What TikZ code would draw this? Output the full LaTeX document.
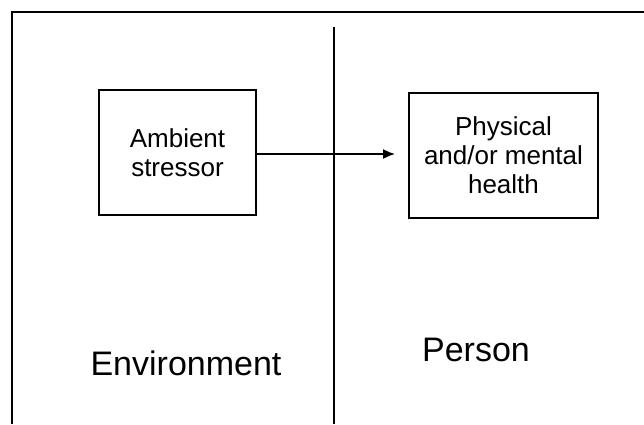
\documentclass[tikz,border=0pt]{standalone}
\usepackage{fontspec}
\setmainfont{Liberation Sans}
\usetikzlibrary{arrows.meta}
\begin{document}
\begin{tikzpicture}[x=0.5pt, y=-0.5pt, >={Latex[length=6pt,width=5pt]}, line width=0.9pt]
    \useasboundingbox (0,0) rectangle (644,424);
    \tikzset{box/.style={draw, align=center, inner sep=0pt, font=\fontsize{13}{14.5}\selectfont},
             side/.style={font=\fontsize{17}{20}\selectfont}}

    % Frame and dividing line
    \coordinate (TR) at (644,12);
    \coordinate (TL) at (12,12);
    \coordinate (BL) at (12,424);
    \draw[line width=0.6pt] (TR) -- (TL) -- (BL);
    \coordinate (top) at (334,27);
    \coordinate (bottom) at (334,424);
    \draw (top) -- (bottom);

    % Boxes
    \node[box, minimum width=78.5pt, minimum height=62.5pt] (stress) at (177.5,152.5) {Ambient\\stressor};
    \node[box, minimum width=94.5pt, minimum height=62.5pt] (health) at (503.5,155.5) {Physical\\and/or mental\\health};

    % Effect arrow
    \draw[->, shorten >=6.5pt] (stress.east |- 0,154) -- (health.west |- 0,154);

    % Sides
    \node[side] (env) at (186,363) {Environment};
    \node[side] (person) at (476,350) {Person};
  \end{tikzpicture}
\end{document}
